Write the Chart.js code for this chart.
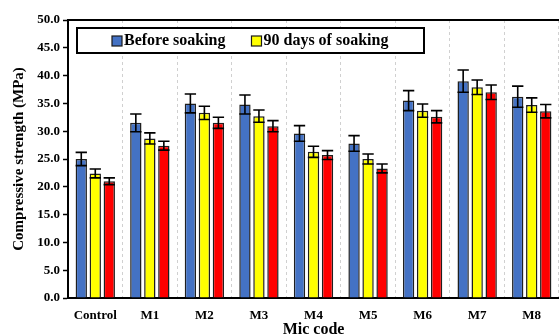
<!DOCTYPE html>
<html>
<head>
<meta charset="utf-8">
<script src="https://cdn.jsdelivr.net/npm/chart.js@4/dist/chart.umd.min.js"></script>
<style>
  html, body { margin: 0; padding: 0; background: #ffffff; }
  #wrap { width: 559px; height: 336px; }
</style>
</head>
<body>
<div id="wrap"><canvas id="c" width="559" height="336"></canvas></div>
<script>
// Mix codes along the x axis
const categories = ['Control', 'M1', 'M2', 'M3', 'M4', 'M5', 'M6', 'M7', 'M8'];

// Compressive strength (MPa), mean values
const beforeSoaking = [25.0, 31.5, 35.0, 34.8, 29.6, 27.8, 35.5, 39.0, 36.2];
const soaking90     = [22.4, 28.7, 33.3, 32.7, 26.3, 25.0, 33.7, 37.9, 34.7];
const soakingLater  = [21.0, 27.4, 31.5, 30.9, 25.7, 23.3, 32.6, 37.0, 33.6];

// Standard deviations (error bars)
const beforeSoakingErr = [1.2, 1.6, 1.7, 1.7, 1.4, 1.4, 1.8, 2.0, 1.9];
const soaking90Err     = [0.8, 1.0, 1.2, 1.1, 1.0, 0.9, 1.2, 1.3, 1.3];
const soakingLaterErr  = [0.6, 0.8, 1.0, 1.0, 0.8, 0.8, 1.1, 1.3, 1.2];

// y-axis ticks
const yTicks = [0, 5, 10, 15, 20, 25, 30, 35, 40, 45, 50];

const SERIF = '"Liberation Serif", "Times New Roman", serif';

// Symmetric error bars drawn through the value scale
const errorBars = {
  id: 'errorBars',
  afterDatasetsDraw(chart) {
    const ctx = chart.ctx;
    const yScale = chart.scales.y;
    chart.data.datasets.forEach((ds, di) => {
      const meta = chart.getDatasetMeta(di);
      if (meta.hidden) return;
      meta.data.forEach((bar, i) => {
        const v = ds.data[i];
        const e = ds.errors[i];
        const yTop = yScale.getPixelForValue(v + e);
        const yBot = yScale.getPixelForValue(v - e);
        const half = bar.width / 2;
        ctx.save();
        ctx.strokeStyle = '#000000';
        ctx.lineWidth = 1.6;
        ctx.beginPath();
        ctx.moveTo(bar.x, yTop); ctx.lineTo(bar.x, yBot);
        ctx.moveTo(bar.x - half, yTop); ctx.lineTo(bar.x + half, yTop);
        ctx.moveTo(bar.x - half, yBot); ctx.lineTo(bar.x + half, yBot);
        ctx.stroke();
        ctx.restore();
      });
    });
  }
};

// Top frame line and boxed legend inside the plot
const frameAndLegend = {
  id: 'frameAndLegend',
  afterDraw(chart) {
    const ctx = chart.ctx;
    const a = chart.chartArea;
    ctx.save();
    ctx.strokeStyle = '#000000';
    ctx.lineWidth = 2;
    ctx.beginPath();
    ctx.moveTo(a.left - 1, a.top);
    ctx.lineTo(a.right, a.top);
    ctx.stroke();

    // legend box
    const bx = a.left + 9, by = a.top + 8, bw = 347, bh = 25;
    ctx.fillStyle = '#ffffff';
    ctx.fillRect(bx, by, bw, bh);
    ctx.strokeRect(bx, by, bw, bh);

    ctx.font = 'bold 16px ' + SERIF;
    ctx.textBaseline = 'middle';
    ctx.textAlign = 'left';
    let x = bx + 35;
    const cy = by + bh / 2 + 0.5;
    chart.data.datasets.forEach(ds => {
      if (!ds.inLegend) return;
      ctx.fillStyle = ds.backgroundColor;
      ctx.fillRect(x, cy - 5, 10, 10);
      ctx.lineWidth = 1.2;
      ctx.strokeStyle = '#1a1a1a';
      ctx.strokeRect(x, cy - 5, 10, 10);
      ctx.fillStyle = '#000000';
      ctx.fillText(ds.label, x + 12, cy);
      x += 12 + ctx.measureText(ds.label).width + 26;
    });
    ctx.restore();
  }
};

const makeSet = (label, data, errors, color, inLegend) => ({
  label, data, errors, inLegend,
  backgroundColor: color,
  borderColor: '#1f1f1f',
  borderWidth: 1.5,
  categoryPercentage: 0.77,
  barPercentage: 0.81
});

new Chart(document.getElementById('c'), {
  type: 'bar',
  data: {
    labels: categories,
    datasets: [
      makeSet('Before soaking', beforeSoaking, beforeSoakingErr, '#4472C4', true),
      makeSet('90 days of soaking', soaking90, soaking90Err, '#FFFF00', true),
      makeSet('180 days of soaking', soakingLater, soakingLaterErr, '#FF0000', false)
    ]
  },
  options: {
    responsive: false,
    animation: false,
    devicePixelRatio: 1,
    layout: { padding: { left: 0, right: 0, top: 20, bottom: 0 } },
    plugins: {
      legend: { display: false },
      tooltip: { enabled: false }
    },
    scales: {
      x: {
        offset: true,
        grid: {
          offset: true,
          drawOnChartArea: true,
          drawTicks: false,
          color: '#d0d0d0',
          lineWidth: 1
        },
        border: { display: true, color: '#000000', width: 2, dash: [3, 3] },
        ticks: {
          color: '#000000',
          padding: 10,
          font: { family: SERIF, size: 13, weight: 'bold' }
        },
        title: {
          display: true,
          text: 'Mic code',
          color: '#000000',
          padding: { top: 0, bottom: -2 },
          font: { family: SERIF, size: 16, weight: 'bold', lineHeight: 1 }
        },
        afterFit(s) { s.height = 38; }
      },
      y: {
        min: 0,
        max: 50,
        afterBuildTicks(s) { s.ticks = yTicks.map(v => ({ value: v })); },
        grid: {
          drawOnChartArea: false,
          drawTicks: true,
          tickLength: 5,
          tickColor: '#000000',
          tickWidth: 1.5
        },
        border: { display: true, color: '#000000', width: 2 },
        ticks: {
          color: '#000000',
          padding: 3,
          font: { family: SERIF, size: 13, weight: 'bold' },
          callback: v => Number(v).toFixed(1)
        },
        title: {
          display: true,
          text: 'Compressive strength (MPa)',
          color: '#000000',
          padding: { top: 12, bottom: 0 },
          font: { family: SERIF, size: 15, weight: 'bold', lineHeight: 1 }
        },
        afterFit(s) { s.width = 68; }
      }
    }
  },
  plugins: [errorBars, frameAndLegend]
});
</script>
</body>
</html>
